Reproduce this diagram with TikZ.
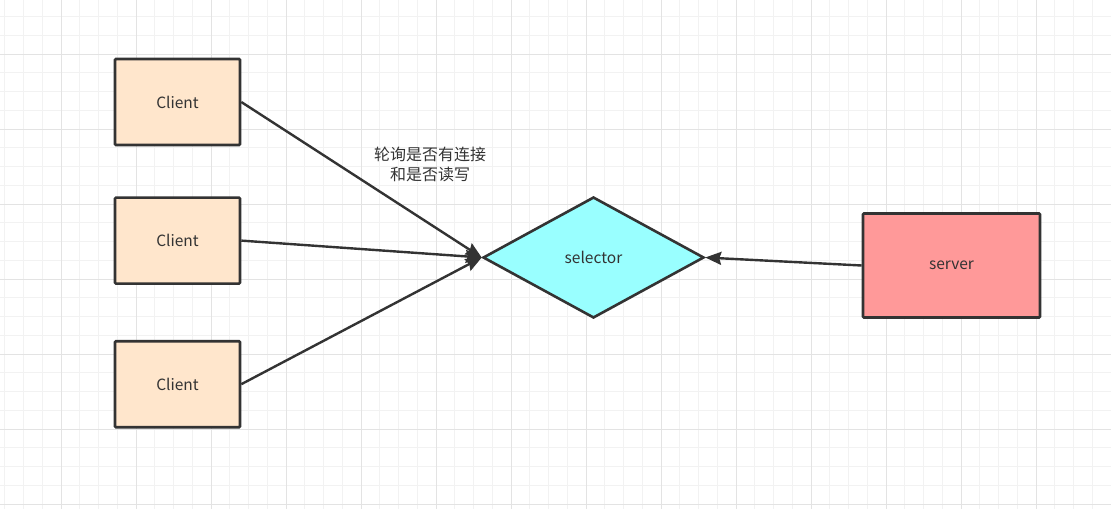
\documentclass[tikz,border=0pt]{standalone}
\usepackage{fontspec}
\setmainfont{Noto Sans CJK SC}
\usetikzlibrary{arrows.meta,positioning,shapes.geometric}

\definecolor{edgegray}{HTML}{333333}
\definecolor{clientfill}{HTML}{FFE6CC}
\definecolor{selectfill}{HTML}{99FFFF}
\definecolor{serverfill}{HTML}{FF9999}
\definecolor{gridminor}{HTML}{F2F2F2}
\definecolor{gridmajor}{HTML}{E3E3E3}

\begin{document}
\begin{tikzpicture}[x=1pt,y=-1pt,>={Stealth[length=16pt,width=13pt,inset=2pt]},
    font=\fontsize{15.5}{20}\selectfont,text=edgegray,
    box/.style={draw=edgegray,line width=2.6pt,rounded corners=1pt,inner sep=0pt},
    client/.style={box,fill=clientfill,minimum width=125pt,minimum height=86pt},
    hub/.style={diamond,draw=edgegray,line width=2.6pt,fill=selectfill,inner sep=0pt,
        minimum width=221pt,minimum height=121pt},
    link/.style={draw=edgegray,line width=2.4pt,->}]

\useasboundingbox[fill=white] (0,0) rectangle (1111,509);

% grid
\foreach \i in {0,...,59}
    \draw[gridminor,line width=1pt] ({4.75+18.75*\i},0) -- ++(0,509);
\foreach \i in {0,...,26}
    \draw[gridminor,line width=1pt] (0,{16.5+18.75*\i}) -- ++(1111,0);
\foreach \i in {0,...,13}
    \draw[gridmajor,line width=1pt] ({61+75*\i},0) -- ++(0,509);
\foreach \i in {0,...,6}
    \draw[gridmajor,line width=1pt] (0,{54+75*\i}) -- ++(1111,0);

% clients
\node [client] (client1) at (177.5,102) {Client};
\node [client] (client2) [below=50pt of client1] {Client};
\node [client] (client3) [below=55pt of client2] {Client};

% selector and server
\node [hub] (selector) at (593.5,257.5) {selector};
\node [box,fill=serverfill,minimum width=177pt,minimum height=104pt] (server) at (951.5,265.5) {server};

\node [align=center,font=\fontsize{16}{20}\selectfont] (poll) at (430,164.5) {轮询是否有连接\\和是否读写};

\draw [link] (client1.east) -- (selector.west);
\draw [link] (client2.east) -- (selector.west);
\draw [link] (client3.east) -- (selector.west);
\draw [link] (server.west) -- (selector.east);

\end{tikzpicture}
\end{document}
